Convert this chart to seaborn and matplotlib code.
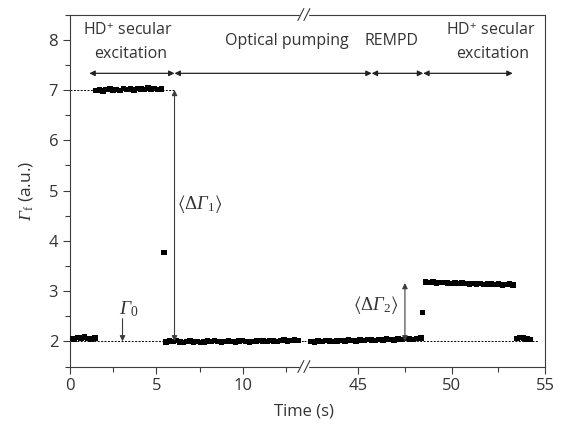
import numpy as np
import pandas as pd
import matplotlib
matplotlib.use("Agg")
import matplotlib.pyplot as plt
import seaborn as sns
from matplotlib.lines import Line2D

# ------------------------------------------------------------
# DATA
# ------------------------------------------------------------
# low level before excitation
g_start = [2.06, 2.05, 2.08, 2.07, 2.09, 2.06, 2.05, 2.07]
# HD+ secular excitation (level ~7)
g_exc1 = [6.99, 7.00, 6.98, 7.01, 7.02, 7.00, 7.01, 6.99, 7.03, 7.01,
          7.02, 7.00, 7.03, 7.02, 7.01, 7.04, 7.02, 7.03, 7.01, 7.02]
# single transient point
t_jump1, g_jump1 = 5.43, 3.77
# optical pumping, left part of broken axis
g_pump_a = [1.99, 2.01, 2.00, 2.02, 1.99, 1.98, 2.00, 2.01, 1.99, 2.00,
            1.98, 1.99, 2.01, 2.00, 2.02, 2.00, 1.99, 2.00, 2.01, 2.00,
            1.99, 2.01, 2.02, 2.00, 1.99, 2.00, 2.01, 2.02, 2.01, 2.00,
            2.02, 2.01, 2.00, 2.02, 2.03, 2.01, 2.02, 2.03, 2.02]
# optical pumping + REMPD, right part of broken axis
g_pump_b = [2.00, 1.99, 2.01, 2.00, 2.02, 2.01, 2.00, 2.01, 2.02, 2.01,
            2.03, 2.02, 2.01, 2.03, 2.02, 2.04, 2.03, 2.02, 2.04, 2.03,
            2.05, 2.04, 2.03, 2.05, 2.04, 2.06, 2.05, 2.04, 2.06, 2.07]
t_jump2, g_jump2 = 48.43, 2.57
# second HD+ secular excitation
g_exc2 = [3.18, 3.17, 3.18, 3.16, 3.17, 3.17, 3.16, 3.15, 3.16, 3.15,
          3.16, 3.15, 3.14, 3.15, 3.14, 3.15, 3.13, 3.14, 3.14, 3.13,
          3.14, 3.12, 3.13, 3.14, 3.12]
g_end = [2.06, 2.08, 2.07, 2.05, 2.04]

gamma0 = 2.0
gamma_exc = 7.0
gamma_rempd = 3.16

df = pd.concat([
    pd.DataFrame({"time": np.linspace(0.05, 1.45, len(g_start)), "gamma": g_start, "panel": "left"}),
    pd.DataFrame({"time": np.linspace(1.5, 5.3, len(g_exc1)), "gamma": g_exc1, "panel": "left"}),
    pd.DataFrame({"time": [t_jump1], "gamma": [g_jump1], "panel": "left"}),
    pd.DataFrame({"time": np.linspace(5.55, 13.2, len(g_pump_a)), "gamma": g_pump_a, "panel": "left"}),
    pd.DataFrame({"time": np.linspace(42.45, 48.35, len(g_pump_b)), "gamma": g_pump_b, "panel": "right"}),
    pd.DataFrame({"time": [t_jump2], "gamma": [g_jump2], "panel": "right"}),
    pd.DataFrame({"time": np.linspace(48.6, 53.3, len(g_exc2)), "gamma": g_exc2, "panel": "right"}),
    pd.DataFrame({"time": np.linspace(53.5, 54.2, len(g_end)), "gamma": g_end, "panel": "right"}),
], ignore_index=True)

# ------------------------------------------------------------
# STYLE
# ------------------------------------------------------------
sns.set_style("ticks")
plt.rcParams["font.family"] = ["Open Sans", "DejaVu Sans"]
# italic serif Gamma (upright Greek capitals are forced to "rm", so rm is italic here)
plt.rcParams["mathtext.fontset"] = "custom"
plt.rcParams["mathtext.rm"] = "Liberation Serif:italic"
plt.rcParams["mathtext.it"] = "Liberation Serif:italic"
plt.rcParams["mathtext.sf"] = "Liberation Serif"
plt.rcParams["mathtext.fallback"] = "stix"
TXT = "#333333"
LINE = "#3c3c3c"

W, H = 561, 426
fig = plt.figure(figsize=(W / 100, H / 100), dpi=100)
x_left, x_break, x_right = 70, 303.9, 545
y_top, y_bot = 14.5, 366.5
gs = fig.add_gridspec(1, 2, width_ratios=[x_break - x_left, x_right - x_break], wspace=0,
                      left=x_left / W, right=x_right / W, bottom=1 - y_bot / H, top=1 - y_top / H)
ax1 = fig.add_subplot(gs[0])
ax2 = fig.add_subplot(gs[1])
ax2.patch.set_alpha(0)

for ax, panel in [(ax1, "left"), (ax2, "right")]:
    sns.scatterplot(data=df[df["panel"] == panel], x="time", y="gamma", ax=ax,
                    marker="s", s=16, color="black", edgecolor="none", legend=False, zorder=3)
    ax.set_xlabel("")
    ax.set_ylabel("")
    ax.set_ylim(1.5, 8.5)
    for sp in ax.spines.values():
        sp.set_color(LINE)
        sp.set_linewidth(0.8)
    ax.tick_params(which="both", direction="out", width=0.8, color=LINE,
                   labelcolor=TXT, labelsize=12, top=False, right=False)
    ax.tick_params(which="major", length=5)
    ax.tick_params(which="minor", length=3.5)

ax1.set_xlim(0, 13.54)
ax2.set_xlim(42.09, 55)
ax1.spines["right"].set_visible(False)
ax2.spines["left"].set_visible(False)
ax2.tick_params(axis="y", which="both", left=False, labelleft=False)

ax1.set_xticks([0, 5, 10])
ax1.set_xticks([2.5, 7.5, 12.5], minor=True)
ax2.set_xticks([45, 50, 55])
ax2.set_xticks([47.5, 52.5], minor=True)
ax1.set_yticks(range(2, 9))
ax1.set_yticks(np.arange(1.5, 9, 1.0), minor=True)

ax1.set_ylabel(r"$\Gamma_{\mathsf{f}}$ (a.u.)", fontsize=12.5, color=TXT, labelpad=10)
fig.text(x_break / W, 1 - 411 / H, "Time (s)", ha="center", va="center", fontsize=12, color=TXT)

# dashed reference levels
dash = dict(color="black", lw=0.7, ls=(0, (2, 1.5)), zorder=2)
ax1.plot([0, 6.05], [gamma_exc, gamma_exc], **dash)
ax1.plot([0, 13.54], [gamma0, gamma0], **dash)
ax2.plot([42.09, 54.6], [gamma0, gamma0], **dash)

# vertical difference arrows
darrow = dict(arrowstyle="<|-|>", color=LINE, lw=0.8, mutation_scale=8, shrinkA=0, shrinkB=0)
varrow = dict(arrowstyle="-|>", color=LINE, lw=0.8, mutation_scale=8, shrinkA=0, shrinkB=0)
ax1.annotate("", xy=(6.05, gamma_exc), xytext=(6.05, gamma0), arrowprops=darrow)
ax2.annotate("", xy=(47.5, gamma_rempd), xytext=(47.5, gamma0), arrowprops=darrow)
ax1.annotate("", xy=(3.04, gamma0), xytext=(3.04, 2.45), arrowprops=varrow)

ax1.text(6.2, 4.74, r"$\langle\mathsf{\Delta}\Gamma_{\mathsf{1}}\rangle$", fontsize=13.5, color=TXT,
         ha="left", va="center")
ax2.text(47.15, 2.72, r"$\langle\mathsf{\Delta}\Gamma_{\mathsf{2}}\rangle$", fontsize=13.5, color=TXT,
         ha="right", va="center")
ax1.text(2.85, 2.64, r"$\Gamma_{\mathsf{0}}$", fontsize=14, color=TXT, ha="left", va="center")

# phase arrows along the top
y_ph = 7.33
harrow = dict(arrowstyle="<|-|>", color="#222222", lw=0.9, mutation_scale=8, shrinkA=0, shrinkB=0)
ax1.annotate("", xy=(6.05, y_ph), xytext=(1.12, y_ph), arrowprops=harrow)
ax2.annotate("", xy=(45.72, y_ph), xycoords=ax2.transData, xytext=(6.05, y_ph),
             textcoords=ax1.transData, arrowprops=harrow, annotation_clip=False)
ax2.annotate("", xy=(48.48, y_ph), xytext=(45.72, y_ph), arrowprops=harrow)
ax2.annotate("", xy=(53.27, y_ph), xytext=(48.48, y_ph), arrowprops=harrow)

fs = 11.5
ax1.text(3.36, 8.17, r"HD$^{\mathregular{+}}$ secular", fontsize=fs, color=TXT, ha="center", va="center")
ax1.text(3.5, 7.72, "excitation", fontsize=fs, color=TXT, ha="center", va="center")
ax1.text(12.53, 7.98, "Optical pumping", fontsize=fs, color=TXT, ha="center", va="center")
ax2.text(46.8, 7.98, "REMPD", fontsize=fs, color=TXT, ha="center", va="center")
ax2.text(52.1, 8.17, r"HD$^{\mathregular{+}}$ secular", fontsize=fs, color=TXT, ha="center", va="center")
ax2.text(52.2, 7.72, "excitation", fontsize=fs, color=TXT, ha="center", va="center")

# axis-break marks on top and bottom spine
for yb in (y_top, y_bot):
    fig.add_artist(Line2D([(x_break - 3) / W, (x_break + 3) / W], [1 - yb / H] * 2,
                          color="white", lw=2.5, transform=fig.transFigure))
    for dx in (-3, 3):
        fig.add_artist(Line2D([(x_break + dx - 3) / W, (x_break + dx + 3) / W],
                              [1 - (yb + 6) / H, 1 - (yb - 6) / H],
                              color=LINE, lw=0.8, transform=fig.transFigure))

fig.savefig("out.png", dpi=100)
